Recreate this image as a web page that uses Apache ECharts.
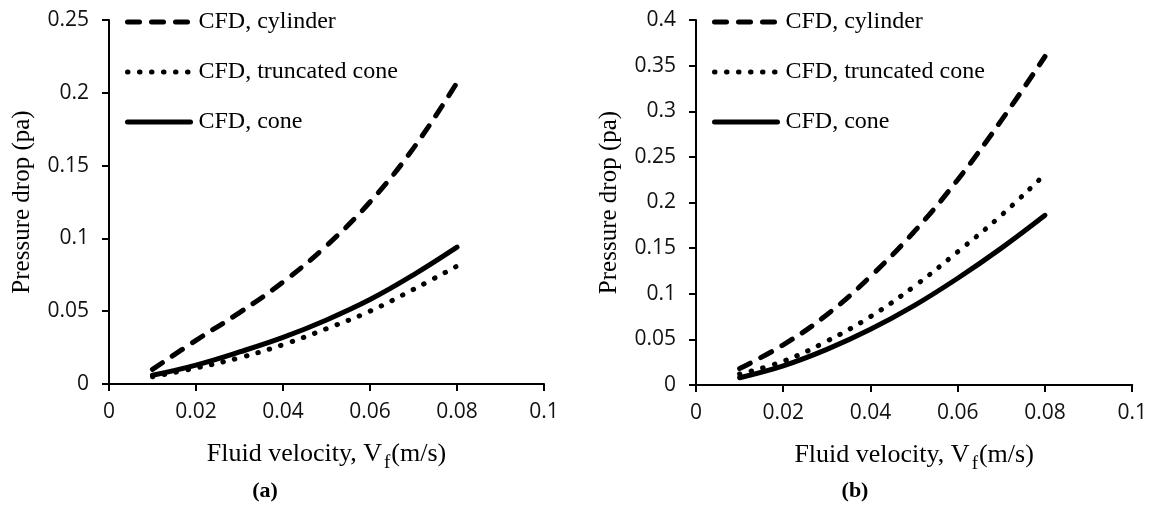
<!DOCTYPE html>
<html style="height: 100%">
<head>
    <meta charset="utf-8">
    <script src="https://cdn.jsdelivr.net/npm/echarts@6/dist/echarts.min.js"></script>
</head>
<body style="height: 100%; width: 100%; margin: 0; background-color: #fff;">

    <div id="container" style="width: 1150px; height: 511px;"></div>

    <script type="text/javascript">
        // fluid velocity (m/s)
        var velocity = [0.01, 0.02, 0.03, 0.04, 0.05, 0.06, 0.07, 0.08];

        // (a) pressure drop (pa)
        var aCylinder = [0.010, 0.030, 0.049, 0.070, 0.095, 0.125, 0.162, 0.207];
        var aTruncCone = [0.005, 0.011, 0.018, 0.027, 0.038, 0.050, 0.065, 0.081];
        var aCone = [0.006, 0.013, 0.022, 0.032, 0.044, 0.058, 0.075, 0.094];

        // (b) pressure drop (pa)
        var bCylinder = [0.018, 0.044, 0.077, 0.119, 0.168, 0.225, 0.290, 0.360];
        var bTruncCone = [0.012, 0.026, 0.048, 0.075, 0.108, 0.146, 0.186, 0.231];
        var bCone = [0.008, 0.021, 0.039, 0.061, 0.087, 0.117, 0.150, 0.186];

        var seriesNames = ['CFD, cylinder', 'CFD, truncated cone', 'CFD, cone'];

        function pairs(ys) {
            var arr = [];
            for (var i = 0; i < velocity.length; i++) {
                arr.push([velocity[i], ys[i]]);
            }
            return arr;
        }

        var serif = '"Liberation Serif", "Times New Roman", serif';
        var sans = '"Open Sans", sans-serif';

        var lineStyles = [
            { color: '#000', width: 5, type: [12, 12], cap: 'round' },
            { color: '#000', width: 5, type: [0.5, 11.5], cap: 'round' },
            { color: '#000', width: 5, type: 'solid', cap: 'round' }
        ];

        function xAxis(idx) {
            return {
                type: 'value', gridIndex: idx, min: 0, max: 0.1, interval: 0.02,
                name: '{a|Fluid velocity, V}{s|f}{a|(m/s)}',
                nameLocation: 'middle', nameGap: 52,
                nameTextStyle: {
                    rich: {
                        a: { fontFamily: serif, fontSize: 26, color: '#000' },
                        s: { fontFamily: serif, fontSize: 19, color: '#000', padding: [18, 1, 0, 2] }
                    }
                },
                axisLine: { lineStyle: { color: '#000', width: 2 } },
                axisTick: { length: 7, lineStyle: { color: '#000', width: 2 } },
                axisLabel: { margin: 18, fontFamily: sans, fontSize: 21, color: '#111' },
                splitLine: { show: false }
            };
        }

        function yAxis(idx, max) {
            return {
                type: 'value', gridIndex: idx, min: 0, max: max, interval: 0.05,
                name: 'Pressure drop (pa)',
                nameLocation: 'middle', nameGap: 74,
                nameTextStyle: { fontFamily: serif, fontSize: 25, color: '#000' },
                axisLine: { show: true, lineStyle: { color: '#000', width: 2 } },
                axisTick: { show: true, length: 7, lineStyle: { color: '#000', width: 2 } },
                axisLabel: { margin: 20, fontFamily: sans, fontSize: 21, color: '#111' },
                splitLine: { show: false }
            };
        }

        function legend(left) {
            var items = [];
            for (var i = 0; i < seriesNames.length; i++) {
                items.push({ name: seriesNames[i], lineStyle: lineStyles[i], itemStyle: { opacity: 0 } });
            }
            return {
                orient: 'vertical', left: left, top: 5,
                itemWidth: 63, itemHeight: 22, itemGap: 26,
                itemStyle: { opacity: 0 },
                data: items,
                textStyle: { fontFamily: serif, fontSize: 24, color: '#000', padding: [0, 0, 0, 3] }
            };
        }

        var dom = document.getElementById("container");
        var myChart = echarts.init(dom);

        var groups = [[aCylinder, aTruncCone, aCone], [bCylinder, bTruncCone, bCone]];
        var series = [];
        for (var g = 0; g < groups.length; g++) {
            for (var s = 0; s < 3; s++) {
                series.push({
                    name: seriesNames[s], type: 'line',
                    xAxisIndex: g, yAxisIndex: g,
                    data: pairs(groups[g][s]),
                    smooth: 0.4, showSymbol: false, symbol: 'none',
                    lineStyle: lineStyles[s], itemStyle: { color: '#000' },
                    emphasis: { disabled: true }
                });
            }
        }

        var option = {
            backgroundColor: '#fff',
            animation: false,
            grid: [
                { left: 109, top: 20, width: 435, height: 364 },
                { left: 696, top: 20, width: 437, height: 365 }
            ],
            xAxis: [xAxis(0), xAxis(1)],
            yAxis: [yAxis(0, 0.25), yAxis(1, 0.4)],
            legend: [legend(120), legend(707)],
            graphic: [
                { type: 'text', x: 265, y: 480, style: { text: '(a)', font: 'bold 22px ' + serif, fill: '#000', textAlign: 'center' } },
                { type: 'text', x: 855, y: 480, style: { text: '(b)', font: 'bold 22px ' + serif, fill: '#000', textAlign: 'center' } }
            ],
            series: series
        };

        myChart.setOption(option, true);
    </script>
</body>
</html>
